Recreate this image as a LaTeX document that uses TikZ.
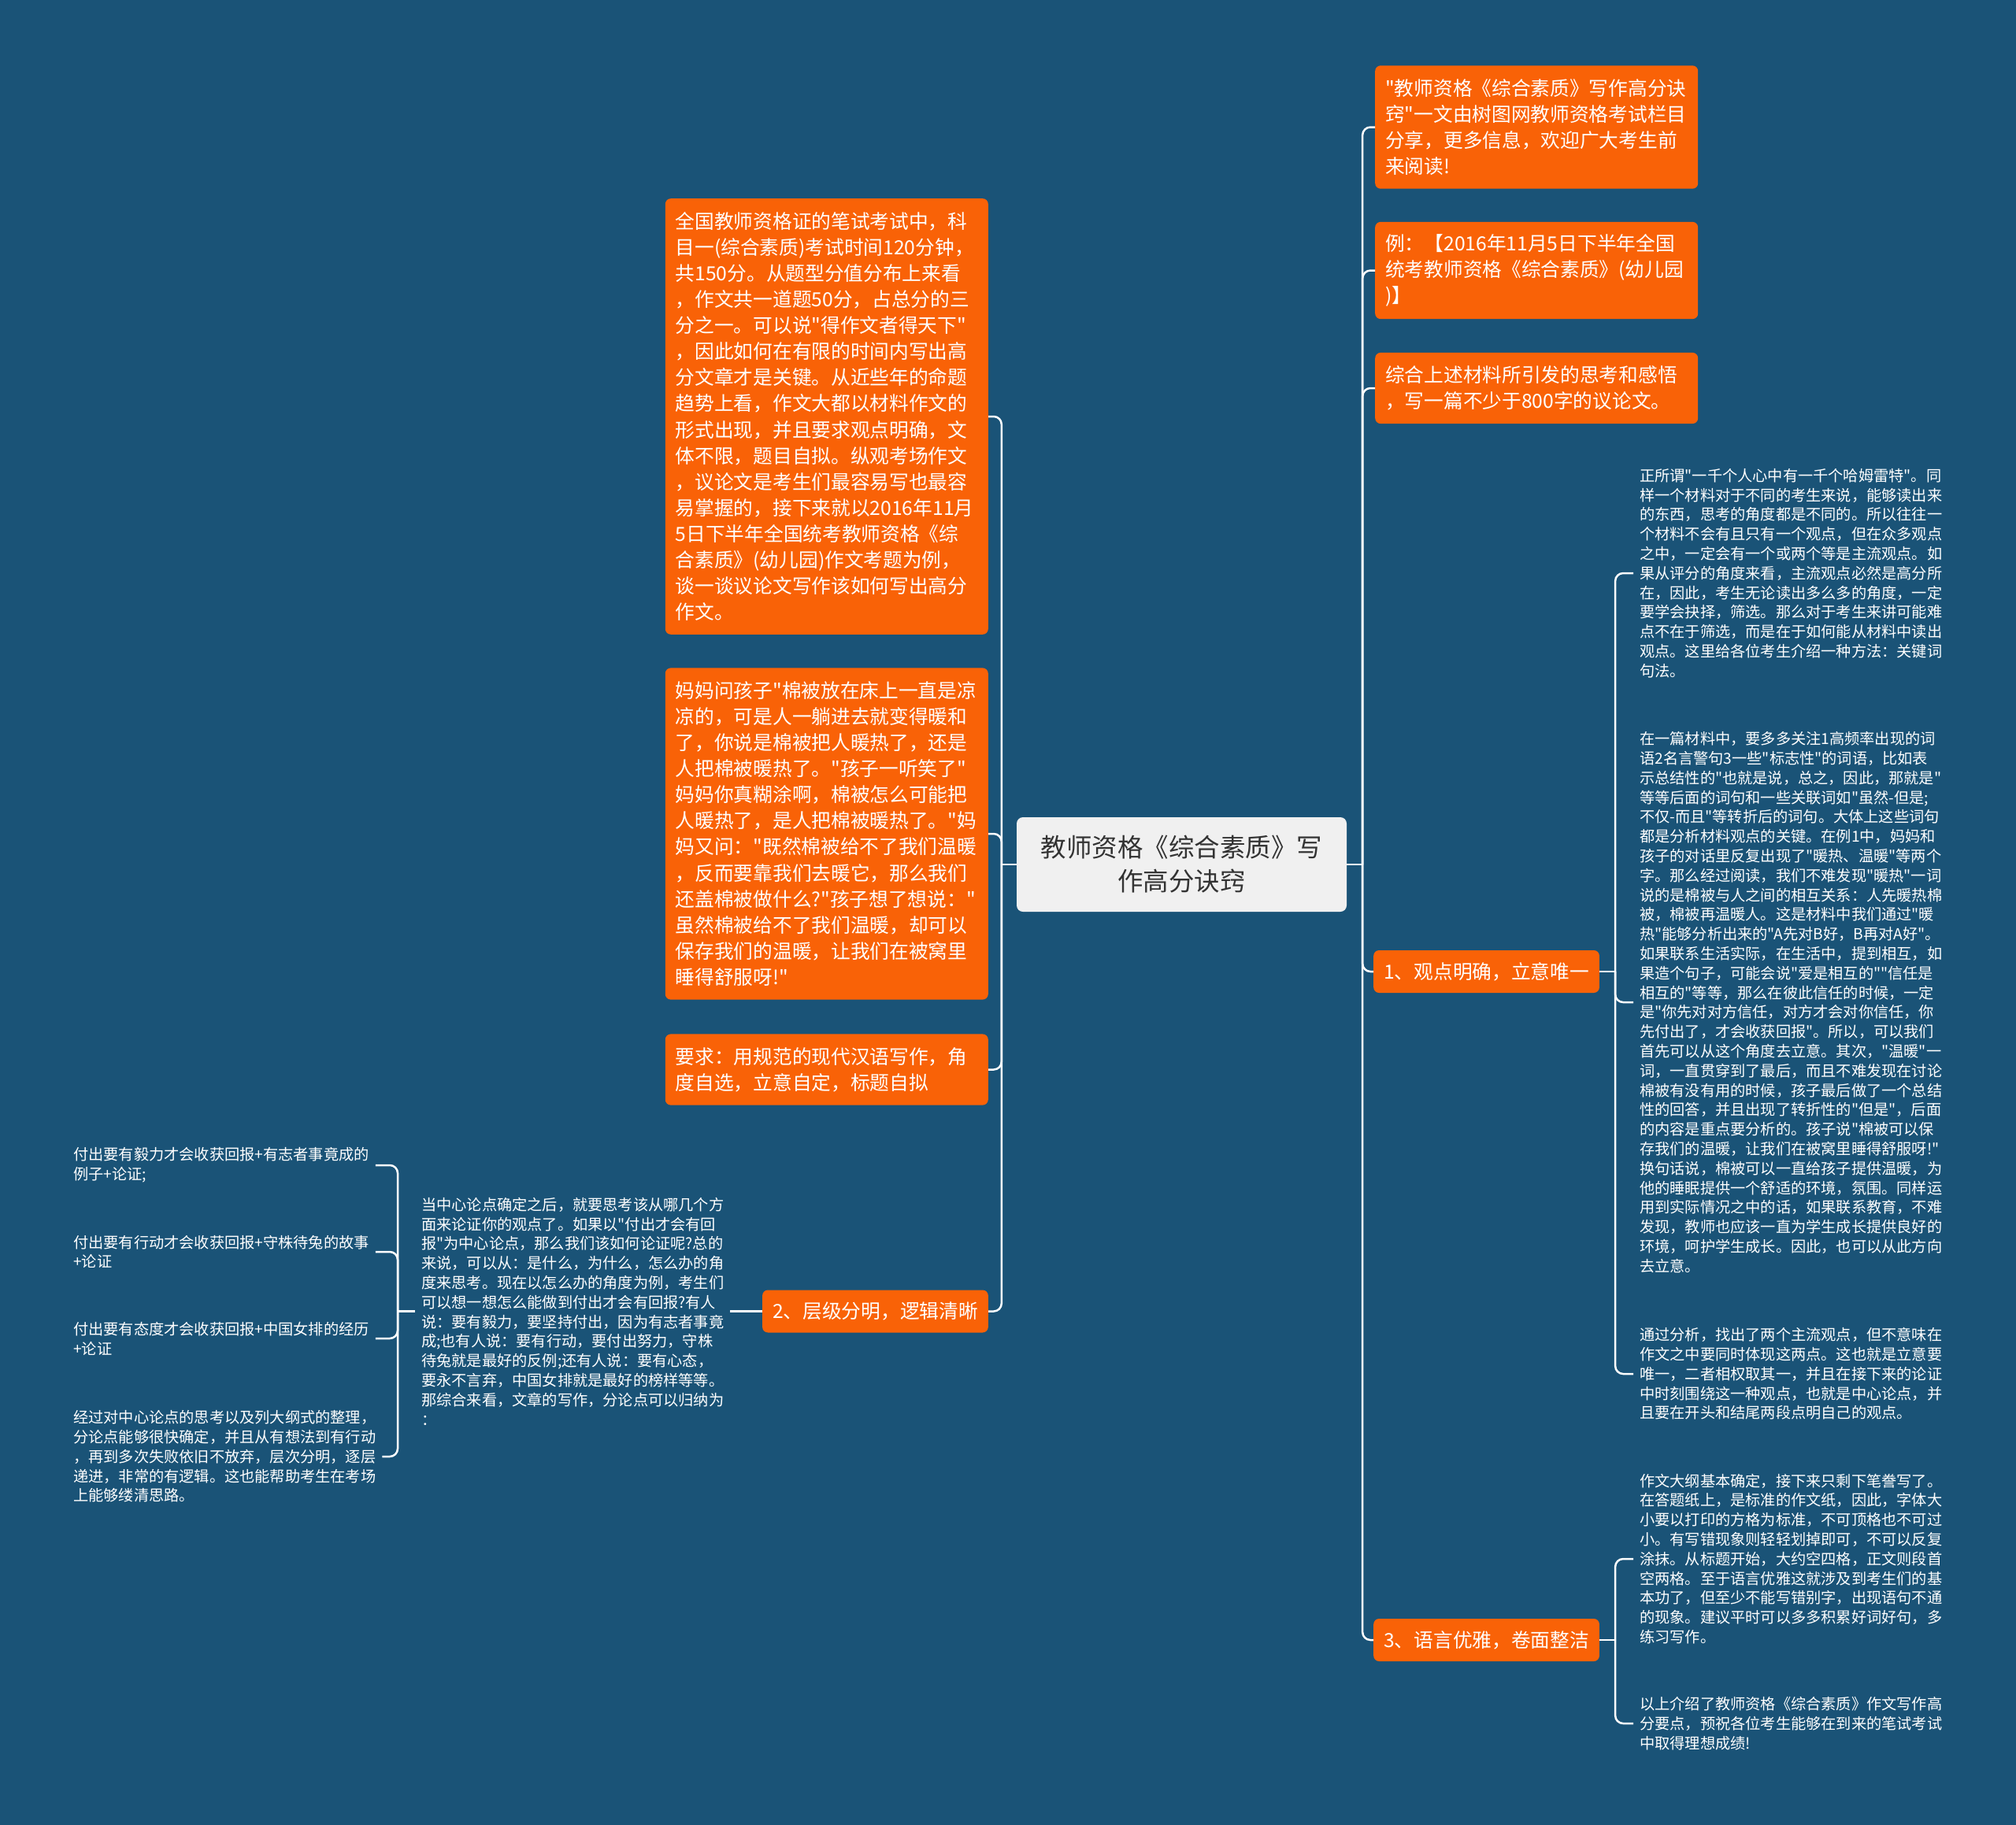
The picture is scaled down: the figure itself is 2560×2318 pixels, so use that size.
\documentclass[tikz,border=0pt]{standalone}
\usepackage{fontspec}
\usetikzlibrary{positioning}
\newfontfamily\cjk{Noto Sans CJK SC}
\definecolor{deepsea}{HTML}{1A5377}
\definecolor{tangerine}{HTML}{F96207}
\definecolor{paper}{HTML}{F0F0F0}
\definecolor{ink}{HTML}{333333}
\newcommand{\boxfont}{\cjk\fontsize{24.7}{33.1}\selectfont}
\newcommand{\notefont}{\cjk\fontsize{19.2}{24.8}\selectfont}

\begin{document}
\begin{tikzpicture}[
  x=1pt, y=-1pt,
  every node/.style={inner sep=0pt},
  root/.style={rectangle, rounded corners=8pt, fill=paper, text=ink, align=center, minimum width=419pt, minimum height=120pt, font=\cjk\fontsize{32.5}{43}\selectfont},
  card/.style={rectangle, rounded corners=7pt, fill=tangerine, text=white, align=left, text width=384pt, inner xsep=13pt, minimum height=#1*33.1pt+24pt, font=\boxfont},
  tag/.style={rectangle, rounded corners=7pt, fill=tangerine, text=white, inner xsep=13pt, minimum height=54pt, font=\boxfont},
  note/.style={text=white, align=left, inner xsep=8pt, inner ysep=4pt, font=\notefont},
  link/.style={draw=white, line width=2.5pt, rounded corners=10pt},
]

% background and page size
\fill[deepsea] (0,0) rectangle (2560,2318);

% central topic
\node[root] (root) at (1500.5,1098) {教师资格《综合素质》写\\作高分诀窍};

% right side
\node[card=4, anchor=west] (r1) at (1746,161.5) {"教师资格《综合素质》写作高分诀\\窍"一文由树图网教师资格考试栏目\\分享，更多信息，欢迎广大考生前\\来阅读!};
\node[card=3, anchor=west] (r2) at (1746,343.5) {例：【2016年11月5日下半年全国\\统考教师资格《综合素质》(幼儿园\\)】};
\node[card=2, anchor=west] (r3) at (1746,493) {综合上述材料所引发的思考和感悟\\，写一篇不少于800字的议论文。};
\node[tag, anchor=west] (r4) at (1744,1234) {1、观点明确，立意唯一};
\node[tag, anchor=west] (r5) at (1744,2083) {3、语言优雅，卷面整洁};

% notes under 1
\node[note, anchor=west] (a) at (2074,728) {正所谓"一千个人心中有一千个哈姆雷特"。同\\样一个材料对于不同的考生来说，能够读出来\\的东西，思考的角度都是不同的。所以往往一\\个材料不会有且只有一个观点，但在众多观点\\之中，一定会有一个或两个等是主流观点。如\\果从评分的角度来看，主流观点必然是高分所\\在，因此，考生无论读出多么多的角度，一定\\要学会抉择，筛选。那么对于考生来讲可能难\\点不在于筛选，而是在于如何能从材料中读出\\观点。这里给各位考生介绍一种方法：关键词\\句法。};
\node[note, anchor=west] (b) at (2074,1273) {在一篇材料中，要多多关注1高频率出现的词\\语2名言警句3一些"标志性"的词语，比如表\\示总结性的"也就是说，总之，因此，那就是"\\等等后面的词句和一些关联词如"虽然-但是;\\不仅-而且"等转折后的词句。大体上这些词句\\都是分析材料观点的关键。在例1中，妈妈和\\孩子的对话里反复出现了"暖热、温暖"等两个\\字。那么经过阅读，我们不难发现"暖热"一词\\说的是棉被与人之间的相互关系：人先暖热棉\\被，棉被再温暖人。这是材料中我们通过"暖\\热"能够分析出来的"A先对B好，B再对A好"。\\如果联系生活实际，在生活中，提到相互，如\\果造个句子，可能会说"爱是相互的""信任是\\相互的"等等，那么在彼此信任的时候，一定\\是"你先对对方信任，对方才会对你信任，你\\先付出了，才会收获回报"。所以，可以我们\\首先可以从这个角度去立意。其次，"温暖"一\\词，一直贯穿到了最后，而且不难发现在讨论\\棉被有没有用的时候，孩子最后做了一个总结\\性的回答，并且出现了转折性的"但是"，后面\\的内容是重点要分析的。孩子说"棉被可以保\\存我们的温暖，让我们在被窝里睡得舒服呀!"\\换句话说，棉被可以一直给孩子提供温暖，为\\他的睡眠提供一个舒适的环境，氛围。同样运\\用到实际情况之中的话，如果联系教育，不难\\发现，教师也应该一直为学生成长提供良好的\\环境，呵护学生成长。因此，也可以从此方向\\去立意。};
\node[note, anchor=west] (c) at (2074,1745) {通过分析，找出了两个主流观点，但不意味在\\作文之中要同时体现这两点。这也就是立意要\\唯一，二者相权取其一，并且在接下来的论证\\中时刻围绕这一种观点，也就是中心论点，并\\且要在开头和结尾两段点明自己的观点。};

% notes under 3
\node[note, anchor=west] (d) at (2074,1980) {作文大纲基本确定，接下来只剩下笔誊写了。\\在答题纸上，是标准的作文纸，因此，字体大\\小要以打印的方格为标准，不可顶格也不可过\\小。有写错现象则轻轻划掉即可，不可以反复\\涂抹。从标题开始，大约空四格，正文则段首\\空两格。至于语言优雅这就涉及到考生们的基\\本功了，但至少不能写错别字，出现语句不通\\的现象。建议平时可以多多积累好词好句，多\\练习写作。};
\node[note, anchor=west] (e) at (2074,2189) {以上介绍了教师资格《综合素质》作文写作高\\分要点，预祝各位考生能够在到来的笔试考试\\中取得理想成绩!};

% left side
\node[card=16, anchor=east] (l1) at (1255,529) {全国教师资格证的笔试考试中，科\\目一(综合素质)考试时间120分钟，\\共150分。从题型分值分布上来看\\，作文共一道题50分，占总分的三\\分之一。可以说"得作文者得天下"\\，因此如何在有限的时间内写出高\\分文章才是关键。从近些年的命题\\趋势上看，作文大都以材料作文的\\形式出现，并且要求观点明确，文\\体不限，题目自拟。纵观考场作文\\，议论文是考生们最容易写也最容\\易掌握的，接下来就以2016年11月\\5日下半年全国统考教师资格《综\\合素质》(幼儿园)作文考题为例，\\谈一谈议论文写作该如何写出高分\\作文。};
\node[card=12, anchor=east] (l2) at (1255,1059) {妈妈问孩子"棉被放在床上一直是凉\\凉的，可是人一躺进去就变得暖和\\了，你说是棉被把人暖热了，还是\\人把棉被暖热了。"孩子一听笑了"\\妈妈你真糊涂啊，棉被怎么可能把\\人暖热了，是人把棉被暖热了。"妈\\妈又问："既然棉被给不了我们温暖\\，反而要靠我们去暖它，那么我们\\还盖棉被做什么?"孩子想了想说："\\虽然棉被给不了我们温暖，却可以\\保存我们的温暖，让我们在被窝里\\睡得舒服呀!"};
\node[card=2, anchor=east] (l3) at (1255,1358.5) {要求：用规范的现代汉语写作，角\\度自选，立意自定，标题自拟};
\node[tag, anchor=east] (l4) at (1255,1665.5) {2、层级分明，逻辑清晰};

% notes under 2
\node[note, anchor=west] (f) at (527,1665.5) {当中心论点确定之后，就要思考该从哪几个方\\面来论证你的观点了。如果以"付出才会有回\\报"为中心论点，那么我们该如何论证呢?总的\\来说，可以从：是什么，为什么，怎么办的角\\度来思考。现在以怎么办的角度为例，考生们\\可以想一想怎么能做到付出才会有回报?有人\\说：要有毅力，要坚持付出，因为有志者事竟\\成;也有人说：要有行动，要付出努力，守株\\待兔就是最好的反例;还有人说：要有心态，\\要永不言弃，中国女排就是最好的榜样等等。\\那综合来看，文章的写作，分论点可以归纳为\\：};
\node[note, anchor=west] (g1) at (85,1480) {付出要有毅力才会收获回报+有志者事竟成的\\例子+论证;};
\node[note, anchor=west] (g2) at (85,1590) {付出要有行动才会收获回报+守株待兔的故事\\+论证};
\node[note, anchor=west] (g3) at (85,1700) {付出要有态度才会收获回报+中国女排的经历\\+论证};
\node[note, anchor=west] (g4) at (85,1850) {经过对中心论点的思考以及列大纲式的整理，\\分论点能够很快确定，并且从有想法到有行动\\，再到多次失败依旧不放弃，层次分明，逐层\\递进，非常的有逻辑。这也能帮助考生在考场\\上能够缕清思路。};

% junctions
\coordinate (rj) at ([xshift=20pt]root.east);
\coordinate (lj) at ([xshift=-19pt]root.west);
\coordinate (oj) at ([xshift=20pt]r4.east);
\coordinate (tj) at ([xshift=20pt]r5.east);
\coordinate (gj) at ([xshift=-22pt]f.west);

% connectors
\draw[link] (root.east) -- (rj);
\foreach \n in {r1,r2,r3,r4,r5}
  \draw[link] (rj) |- (\n.west);
\draw[link] (root.west) -- (lj);
\foreach \n in {l1,l2,l3,l4}
  \draw[link] (lj) |- (\n.east);
\draw[link] (r4.east) -- (oj);
\foreach \n in {a,b,c}
  \draw[link] (oj) |- (\n.west);
\draw[link] (r5.east) -- (tj);
\foreach \n in {d,e}
  \draw[link] (tj) |- (\n.west);
\draw[link] (l4.west) -- (f.east);
\draw[link] (f.west) -- (gj);
\foreach \n in {g1,g2,g3,g4}
  \draw[link] (gj) |- (\n.east);

\end{tikzpicture}
\end{document}
